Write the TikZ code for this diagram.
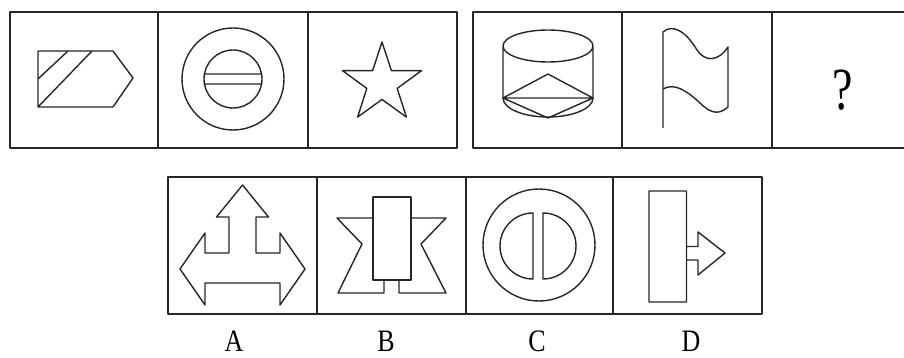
\documentclass[tikz,border=0pt]{standalone}
\usepackage{fontspec}
\setmainfont{Liberation Serif}
\usetikzlibrary{shapes.geometric}

\begin{document}
\begin{tikzpicture}[x=1pt, y=-1pt, line join=round,
  frame/.style={draw=black!85, line width=1.7pt},
  fig/.style={draw=black!85, line width=1.4pt},
  tag/.style={font=\fontsize{26}{26}\selectfont, anchor=base, inner sep=0pt}]
\useasboundingbox (0,0) rectangle (904,358);
% frames
\draw[frame] (10,12) rectangle (457,148) (158,12) -- (158,148) (308,12) -- (308,148);
\draw[frame] (910,12) -- (473,12) -- (473,148) -- (910,148) (622,12) -- (622,148) (772,12) -- (772,148);
\draw[frame] (168,177) rectangle (762,314) (317,177) -- (317,314) (466,177) -- (466,314) (613,177) -- (613,314);
% row 1
\draw[fig] (38,51) -- (113,51) -- (133,78) -- (113,107) -- (38,107) -- cycle (68,51) -- (38,79) (92,51) -- (38,107);
\draw[fig] (233,79) circle[radius=51] (233,79) circle[radius=29] (204.5,74) -- (261.5,74) (204.5,84) -- (261.5,84);
\node[star, star points=5, star point ratio=2.6, minimum size=83pt, inner sep=0pt, fig] (star) at (382,83.5) {};
\draw[fig] (548,46) ellipse[x radius=45, y radius=16] (503,46) -- (503,98) (593,46) -- (593,98)
  (503,98) arc[start angle=180, end angle=0, x radius=45, y radius=19];
\draw[fig] (548,74) -- (503,98) -- (548,118) -- (593,98) -- cycle (503,98) -- (593,98);
\draw[fig] (663,128) -- (663,32) .. controls (672,24) and (685,30) .. (697,50) .. controls (705,62) and (718,62) .. (728,47) -- (728,107)
  .. controls (720,114) and (712,115) .. (700,103) .. controls (688,92) and (675,82) .. (663,89);
\node[tag, font=\fontsize{46}{46}\selectfont] (ask) at (843,110) {\scalebox{1}[1.3]{?}};
% row 2
\draw[fig] (242.5,185) -- (268.5,217) -- (256,217) -- (256,253) -- (280,253) -- (280,233) -- (305,269) -- (280,305) -- (280,283)
  -- (205,283) -- (205,305) -- (180,269) -- (205,233) -- (205,253) -- (229,253) -- (229,217) -- (216.5,217) -- cycle;
\draw[fig] (373,197) rectangle (411,280);
\draw[fig] (373,218) -- (337,218) -- (362,244) -- (338,293) -- (384,293) -- (384,280) (399,280) -- (399,293) -- (446,293) -- (421,244) -- (446,218) -- (411,218);
\draw[fig] (539,245) circle[radius=56];
\draw[fig] (533,213) arc[start angle=270, end angle=90, radius=33] -- cycle;
\draw[fig] (543,213) arc[start angle=-90, end angle=90, radius=33] -- cycle;
\draw[fig] (686.5,246.5) -- (698,246.5) -- (698,232) -- (725,253) -- (698,275) -- (698,260) -- (686.5,260) (649,191) rectangle (686.5,302);
% labels
\node[tag] (la) at (234,351) {\scalebox{1}[1.2]{A}};
\node[tag] (lb) at (386,351) {\scalebox{1}[1.2]{B}};
\node[tag] (lc) at (537,351) {\scalebox{1}[1.2]{C}};
\node[tag] (ld) at (691,351) {\scalebox{1}[1.2]{D}};
\end{tikzpicture}
\end{document}
